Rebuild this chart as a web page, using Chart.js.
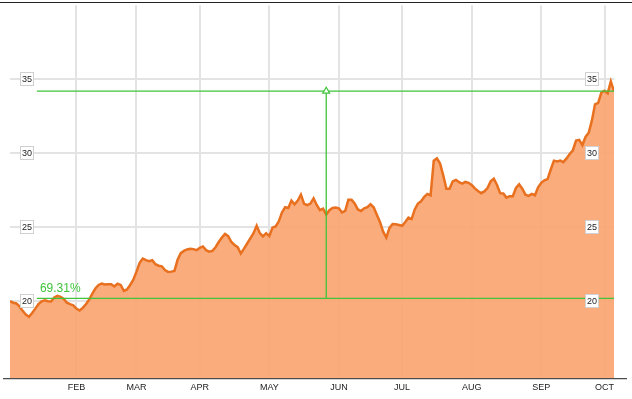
<!DOCTYPE html>
<html>
<head>
<meta charset="utf-8">
<script src="https://cdn.jsdelivr.net/npm/chart.js@4"></script>
<style>
  body { margin: 0; background: #fff; }
  #wrap { width: 632px; height: 399px; }
</style>
</head>
<body>
<div id="wrap"><canvas id="myChart" width="632" height="399"></canvas></div>
<script>
// Precio de cierre por día hábil (índice 0 = primer día de enero)
const values = [
  20.0, 19.9, 19.85, 19.65, 19.35, 19.1, 18.95, 19.2, 19.5, 19.8,
  20.0, 20.07, 20.0, 19.98, 20.25, 20.36, 20.3, 20.15, 19.9, 19.8,
  19.73, 19.5, 19.37, 19.55, 19.8, 20.1, 20.5, 20.86, 21.1, 21.2,
  21.13, 21.15, 21.15, 21.0, 21.18, 21.1, 20.7, 20.8, 21.1, 21.45,
  22.0, 22.6, 22.88, 22.78, 22.7, 22.77, 22.5, 22.4, 22.36, 22.1,
  21.98, 22.0, 22.05, 22.8, 23.25, 23.4, 23.5, 23.55, 23.52, 23.45,
  23.6, 23.7, 23.45, 23.35, 23.4, 23.65, 24.0, 24.3, 24.55, 24.4,
  24.0, 23.8, 23.65, 23.22, 23.55, 23.9, 24.25, 24.6, 25.1, 24.6,
  24.38, 24.6, 24.4, 24.97, 25.05, 25.4, 26.0, 26.35, 26.3, 26.8,
  26.55, 26.8, 27.2, 26.58, 26.5, 26.6, 26.95, 26.5, 26.15, 26.25,
  25.85, 26.15, 26.3, 26.33, 26.28, 26.0, 26.1, 26.85, 26.85, 26.6,
  26.2, 26.1, 26.28, 26.35, 26.55, 26.35, 25.85, 25.35, 24.7, 24.3,
  24.95, 25.22, 25.2, 25.15, 25.1, 25.35, 25.65, 25.55, 26.2, 26.6,
  26.75, 27.05, 27.25, 27.15, 29.5, 29.65, 29.3, 28.5, 27.6, 27.6,
  28.1, 28.2, 28.05, 27.95, 28.06, 28.0, 27.85, 27.62, 27.45, 27.3,
  27.42, 27.65, 28.1, 28.28, 27.85, 27.3, 27.28, 27.0, 27.1, 27.09,
  27.65, 27.9, 27.6, 27.2, 27.12, 27.25, 27.16, 27.7, 28.0, 28.17,
  28.25, 28.9, 29.5, 29.45, 29.5, 29.4, 29.65, 29.95, 30.2, 30.85,
  30.9, 30.55, 31.1, 31.38, 32.2, 33.3, 33.4, 34.1, 34.22, 34.05,
  34.85, 34.19
];

// Meses: índice del primer día hábil de cada mes
const monthLabels = ['FEB', 'MAR', 'APR', 'MAY', 'JUN', 'JUL', 'AUG', 'SEP', 'OCT'];
const monthStarts = [21, 40, 60, 82, 104, 124, 146, 168, 188];
const yTicks = [20, 25, 30, 35];

// Medición de variación
const lowPrice = 20.195;
const highPrice = 34.19;
const rangeStart = 8.5;
const markerDay = 100;
const changeLabel = '69.31%';

const green = '#3fc43a';
const lastDay = values.length - 1;

const frame = {
  id: 'frame',
  afterDatasetsDraw(chart) {
    const ctx = chart.ctx;
    const area = chart.chartArea;
    const y = chart.scales.y;
    const x = chart.scales.x;
    ctx.save();

    // cajas de etiquetas del eje Y (izquierda y derecha)
    ctx.font = '9px "Liberation Sans", Arial, sans-serif';
    ctx.textAlign = 'center';
    ctx.textBaseline = 'middle';
    yTicks.forEach(v => {
      const py = Math.round(y.getPixelForValue(v));
      [area.left + 17, area.right - 22].forEach(cx => {
        ctx.fillStyle = '#fff';
        ctx.fillRect(cx - 7, py - 7, 14, 14);
        ctx.strokeStyle = '#d0d0d0';
        ctx.lineWidth = 1;
        ctx.strokeRect(cx - 6.5, py - 6.5, 13, 13);
        ctx.fillStyle = '#222';
        ctx.fillText(String(v), cx, py + 0.5);
      });
    });

    // etiqueta de porcentaje
    ctx.font = '12px "Liberation Sans", Arial, sans-serif';
    ctx.textAlign = 'left';
    ctx.textBaseline = 'alphabetic';
    ctx.fillStyle = green;
    ctx.fillText(changeLabel, x.getPixelForValue(rangeStart) + 3, y.getPixelForValue(lowPrice) - 6);

    // líneas negras superior e inferior
    ctx.fillStyle = '#222';
    ctx.fillRect(0, 2, chart.width, 1);
    ctx.fillRect(3, area.bottom, chart.width - 8, 1);
    ctx.restore();
  }
};

const ctx = document.getElementById('myChart');
new Chart(ctx, {
  type: 'line',
  data: {
    datasets: [
      {
        data: values.map((v, i) => ({ x: i, y: v })),
        borderColor: '#e8701f',
        borderWidth: 2.5,
        backgroundColor: 'rgba(250, 163, 110, 0.9)',
        fill: 'start',
        pointRadius: 0,
        tension: 0,
        order: 2
      },
      {
        data: [{ x: rangeStart, y: lowPrice }, { x: lastDay, y: lowPrice }],
        borderColor: green,
        borderWidth: 1.3,
        pointRadius: 0,
        fill: false,
        order: 1
      },
      {
        data: [{ x: rangeStart, y: highPrice }, { x: lastDay, y: highPrice }],
        borderColor: green,
        borderWidth: 1.3,
        pointRadius: 0,
        fill: false,
        order: 1
      },
      {
        data: [{ x: markerDay, y: lowPrice }, { x: markerDay, y: highPrice }],
        borderColor: green,
        borderWidth: 1.3,
        pointStyle: 'triangle',
        pointRadius: c => c.dataIndex === 1 ? 4 : 0,
        pointBackgroundColor: '#fff',
        pointBorderColor: green,
        pointBorderWidth: 1.2,
        fill: false,
        order: 0
      }
    ]
  },
  options: {
    responsive: false,
    animation: false,
    layout: { padding: { left: 10, right: 18, top: 4, bottom: 2 } },
    plugins: {
      legend: { display: false },
      tooltip: { enabled: false }
    },
    scales: {
      x: {
        type: 'linear',
        min: 0,
        max: lastDay,
        afterBuildTicks: scale => {
          scale.ticks = monthStarts.map(v => ({ value: v }));
        },
        ticks: {
          autoSkip: false,
          maxRotation: 0,
          padding: 4,
          color: '#222',
          font: { size: 9, family: '"Liberation Sans", Arial, sans-serif' },
          callback: v => monthLabels[monthStarts.indexOf(v)]
        },
        grid: { color: '#e3e3e3', lineWidth: 2, drawTicks: false },
        border: { display: false }
      },
      y: {
        min: 14.8,
        max: 40,
        afterBuildTicks: scale => {
          scale.ticks = yTicks.map(v => ({ value: v }));
        },
        ticks: { display: false },
        grid: { color: '#e3e3e3', lineWidth: 2, drawTicks: false },
        border: { display: false }
      }
    }
  },
  plugins: [frame]
});
</script>
</body>
</html>
